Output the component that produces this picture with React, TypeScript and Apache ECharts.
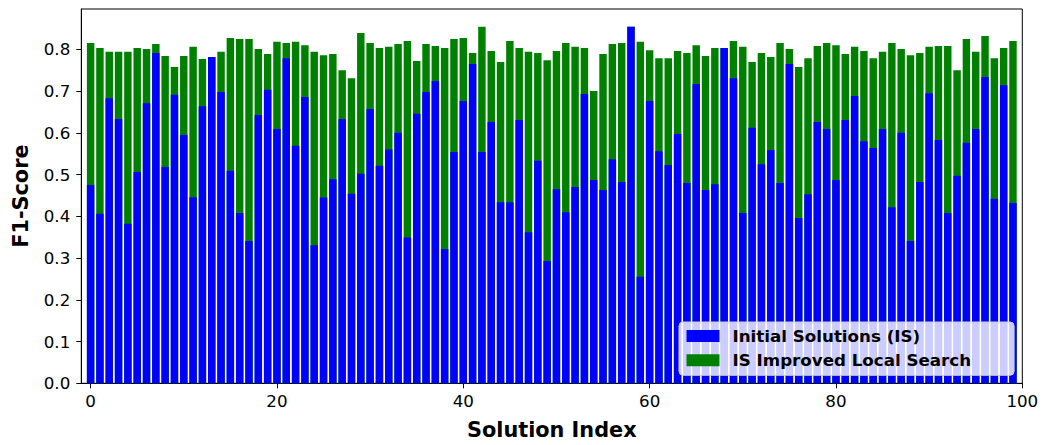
import React, { useEffect, useRef } from "react";
import * as echarts from "echarts";

const initialScores = [
  0.475, 0.406, 0.683, 0.633, 0.382, 0.506, 0.671, 0.791, 0.518, 0.691,
  0.595, 0.446, 0.664, 0.782, 0.698, 0.509, 0.408, 0.341, 0.643, 0.703,
  0.609, 0.779, 0.569, 0.686, 0.331, 0.445, 0.489, 0.633, 0.454, 0.502,
  0.657, 0.521, 0.560, 0.600, 0.349, 0.646, 0.698, 0.724, 0.322, 0.554,
  0.676, 0.765, 0.554, 0.626, 0.434, 0.434, 0.631, 0.362, 0.533, 0.293,
  0.465, 0.410, 0.470, 0.693, 0.487, 0.463, 0.537, 0.482, 0.854, 0.255,
  0.676, 0.556, 0.523, 0.597, 0.480, 0.717, 0.463, 0.477, 0.803, 0.731,
  0.408, 0.612, 0.525, 0.559, 0.480, 0.765, 0.396, 0.453, 0.626, 0.609,
  0.487, 0.631, 0.688, 0.580, 0.564, 0.609, 0.422, 0.600, 0.341, 0.482,
  0.695, 0.583, 0.408, 0.497, 0.576, 0.609, 0.734, 0.442, 0.714, 0.432,
];

const improvedScores = [
  0.815, 0.803, 0.794, 0.794, 0.794, 0.803, 0.801, 0.813, 0.784, 0.758,
  0.784, 0.806, 0.777, 0.782, 0.794, 0.827, 0.825, 0.825, 0.801, 0.789,
  0.818, 0.815, 0.818, 0.810, 0.794, 0.786, 0.789, 0.750, 0.731, 0.839,
  0.815, 0.803, 0.806, 0.813, 0.820, 0.772, 0.813, 0.808, 0.803, 0.825,
  0.827, 0.791, 0.854, 0.796, 0.770, 0.820, 0.803, 0.794, 0.791, 0.774,
  0.796, 0.815, 0.806, 0.803, 0.700, 0.789, 0.813, 0.815, 0.854, 0.818,
  0.798, 0.779, 0.779, 0.796, 0.791, 0.810, 0.784, 0.803, 0.803, 0.820,
  0.806, 0.770, 0.791, 0.782, 0.815, 0.801, 0.758, 0.779, 0.808, 0.815,
  0.810, 0.789, 0.806, 0.796, 0.779, 0.794, 0.815, 0.801, 0.786, 0.791,
  0.806, 0.808, 0.808, 0.750, 0.825, 0.794, 0.832, 0.779, 0.803, 0.820,
];

const xTicks = [0, 20, 40, 60, 80, 100];
const yTicks = [0, 0.1, 0.2, 0.3, 0.4, 0.5, 0.6, 0.7, 0.8];

const SERIES_IS = "Initial Solutions (IS)";
const SERIES_LS = "IS Improved Local Search";

const FONT = "DejaVu Sans";

export default function App() {
  const ref = useRef<HTMLDivElement>(null);

  useEffect(() => {
    document.body.style.margin = "0";
    if (!ref.current) return;
    const chart = echarts.init(ref.current, null, { renderer: "svg" });

    const isData = initialScores.map((v, i) => [i, v]);
    const lsData = improvedScores.map((v, i) => [i, v]);

    chart.setOption({
      animation: false,
      backgroundColor: "#ffffff",
      textStyle: { fontFamily: FONT },
      grid: {
        left: 81.3,
        right: 20.7,
        top: 9,
        bottom: 61.7,
        containLabel: false,
        outerBoundsMode: "none",
        show: true,
        borderColor: "#000000",
        borderWidth: 1,
        backgroundColor: "transparent",
      },
      legend: {
        data: [SERIES_IS, SERIES_LS],
        orient: "vertical",
        left: 679,
        top: 322,
        itemWidth: 33,
        itemHeight: 12,
        itemGap: 4.3,
        icon: "rect",
        padding: [4, 43, 5, 7.5],
        backgroundColor: "rgba(255,255,255,0.8)",
        borderColor: "#cccccc",
        borderWidth: 1,
        borderRadius: 4,
        textStyle: {
          fontFamily: FONT,
          fontWeight: "bold",
          fontSize: 16.7,
          color: "#000000",
          lineHeight: 20,
          padding: [0, 0, 0, 8],
        },
      },
      xAxis: {
        type: "value",
        min: -1,
        max: 100,
        name: "Solution Index",
        nameLocation: "middle",
        nameGap: 36,
        nameTextStyle: {
          fontFamily: FONT,
          fontWeight: "bold",
          fontSize: 20.8,
          color: "#000000",
        },
        axisLine: { show: true, onZero: false, lineStyle: { color: "#000000", width: 1 } },
        axisTick: {
          show: true,
          inside: false,
          length: 5,
          lineStyle: { color: "#000000", width: 1 },
          customValues: xTicks,
        },
        axisLabel: {
          show: true,
          margin: 9,
          fontFamily: FONT,
          fontSize: 16.7,
          color: "#000000",
          customValues: xTicks,
          formatter: (v: number) => String(Math.round(v)),
        },
        splitLine: { show: false },
      },
      yAxis: {
        type: "value",
        min: 0,
        max: 0.8967,
        name: "F1-Score",
        nameLocation: "middle",
        nameGap: 50,
        nameTextStyle: {
          fontFamily: FONT,
          fontWeight: "bold",
          fontSize: 20.8,
          color: "#000000",
        },
        axisLine: { show: true, onZero: false, lineStyle: { color: "#000000", width: 1 } },
        axisTick: {
          show: true,
          inside: false,
          length: 5,
          lineStyle: { color: "#000000", width: 1 },
          customValues: yTicks,
        },
        axisLabel: {
          show: true,
          margin: 11,
          fontFamily: FONT,
          fontSize: 16.7,
          color: "#000000",
          customValues: yTicks,
          formatter: (v: number) => v.toFixed(1),
        },
        splitLine: { show: false },
      },
      series: [
        {
          name: SERIES_LS,
          type: "bar",
          data: lsData,
          barWidth: 7.45,
          barGap: "-100%",
          itemStyle: { color: "#008000" },
        },
        {
          name: SERIES_IS,
          type: "bar",
          data: isData,
          barWidth: 7.45,
          barGap: "-100%",
          itemStyle: { color: "#0000ff" },
        },
      ],
    });

    return () => {
      chart.dispose();
    };
  }, []);

  return <div ref={ref} style={{ width: 1043, height: 445 }} />;
}
